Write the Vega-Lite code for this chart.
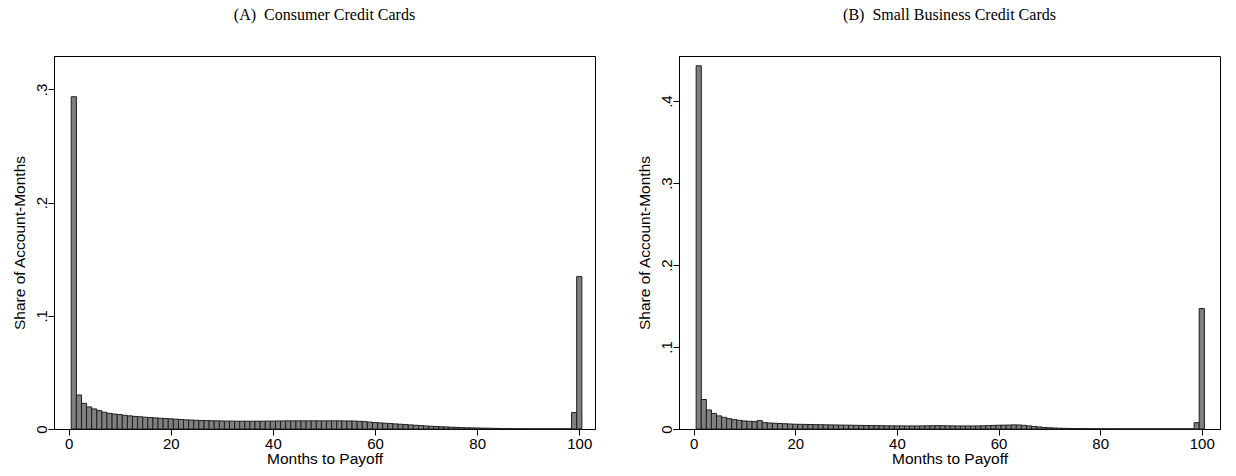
{
  "$schema": "https://vega.github.io/schema/vega-lite/v6.json",
  "background": "white",
  "padding": {"left": 11, "top": 6, "right": 5, "bottom": 4},
  "config": {
    "font": "Liberation Sans",
    "view": {"stroke": "black", "strokeWidth": 1},
    "concat": {"spacing": 40},
    "axis": {
      "grid": false,
      "domainColor": "black",
      "tickColor": "black",
      "labelColor": "black",
      "titleColor": "black",
      "labelFontSize": 15,
      "titleFontSize": 15.5,
      "titleFontWeight": "normal",
      "tickSize": 6,
      "labelFont": "Liberation Sans",
      "titleFont": "Liberation Sans"
    },
    "axisX": {"labelPadding": 1, "titlePadding": 0, "labelFlush": false},
    "axisY": {"labelAngle": -90, "labelAlign": "center", "labelBaseline": "alphabetic", "labelPadding": 2, "titlePadding": 7},
    "title": {"font": "Liberation Serif", "fontSize": 16, "fontWeight": "normal", "anchor": "middle", "color": "black", "baseline": "alphabetic", "offset": 33}
  },
  "datasets": {
    "consumer": [
      {"months": 1, "share": 0.2935}, {"months": 2, "share": 0.030}, {"months": 3, "share": 0.0227}, {"months": 4, "share": 0.0195},
      {"months": 5, "share": 0.0177}, {"months": 6, "share": 0.0162}, {"months": 7, "share": 0.0148}, {"months": 8, "share": 0.0138},
      {"months": 9, "share": 0.0132}, {"months": 10, "share": 0.0127}, {"months": 11, "share": 0.0121}, {"months": 12, "share": 0.0116},
      {"months": 13, "share": 0.0111}, {"months": 14, "share": 0.0108}, {"months": 15, "share": 0.0104}, {"months": 16, "share": 0.0101},
      {"months": 17, "share": 0.0098}, {"months": 18, "share": 0.0095}, {"months": 19, "share": 0.0093}, {"months": 20, "share": 0.0090},
      {"months": 21, "share": 0.0087}, {"months": 22, "share": 0.0084}, {"months": 23, "share": 0.0081}, {"months": 24, "share": 0.0079},
      {"months": 25, "share": 0.0077}, {"months": 26, "share": 0.0075}, {"months": 27, "share": 0.0074}, {"months": 28, "share": 0.0073},
      {"months": 29, "share": 0.0072}, {"months": 30, "share": 0.0071}, {"months": 31, "share": 0.0070}, {"months": 32, "share": 0.0070},
      {"months": 33, "share": 0.0069}, {"months": 34, "share": 0.0069}, {"months": 35, "share": 0.0069}, {"months": 36, "share": 0.0069},
      {"months": 37, "share": 0.0069}, {"months": 38, "share": 0.0069}, {"months": 39, "share": 0.0070}, {"months": 40, "share": 0.0070},
      {"months": 41, "share": 0.0071}, {"months": 42, "share": 0.0071}, {"months": 43, "share": 0.0072}, {"months": 44, "share": 0.0072},
      {"months": 45, "share": 0.0072}, {"months": 46, "share": 0.0072}, {"months": 47, "share": 0.0072}, {"months": 48, "share": 0.0072},
      {"months": 49, "share": 0.0072}, {"months": 50, "share": 0.0072}, {"months": 51, "share": 0.0072}, {"months": 52, "share": 0.0072},
      {"months": 53, "share": 0.0072}, {"months": 54, "share": 0.0071}, {"months": 55, "share": 0.0071}, {"months": 56, "share": 0.0070},
      {"months": 57, "share": 0.0068}, {"months": 58, "share": 0.0065}, {"months": 59, "share": 0.0061}, {"months": 60, "share": 0.0057},
      {"months": 61, "share": 0.0054}, {"months": 62, "share": 0.0051}, {"months": 63, "share": 0.0048}, {"months": 64, "share": 0.0045},
      {"months": 65, "share": 0.0042}, {"months": 66, "share": 0.0039}, {"months": 67, "share": 0.0036}, {"months": 68, "share": 0.0033},
      {"months": 69, "share": 0.0030}, {"months": 70, "share": 0.0027}, {"months": 71, "share": 0.0024}, {"months": 72, "share": 0.0022},
      {"months": 73, "share": 0.0020}, {"months": 74, "share": 0.0018}, {"months": 75, "share": 0.0016}, {"months": 76, "share": 0.0014},
      {"months": 77, "share": 0.0012}, {"months": 78, "share": 0.0011}, {"months": 79, "share": 0.0010}, {"months": 80, "share": 0.0009},
      {"months": 81, "share": 0.0008}, {"months": 82, "share": 0.0007}, {"months": 83, "share": 0.0006}, {"months": 84, "share": 0.0005},
      {"months": 85, "share": 0.0004}, {"months": 86, "share": 0.0004}, {"months": 87, "share": 0.0003}, {"months": 88, "share": 0.0003},
      {"months": 89, "share": 0.0003}, {"months": 90, "share": 0.0002}, {"months": 91, "share": 0.0002}, {"months": 92, "share": 0.0002},
      {"months": 93, "share": 0.0002}, {"months": 94, "share": 0.0002}, {"months": 95, "share": 0.0002}, {"months": 96, "share": 0.0002},
      {"months": 97, "share": 0.0002}, {"months": 98, "share": 0.0002}, {"months": 99, "share": 0.0145}, {"months": 100, "share": 0.1346}
    ],
    "business": [
      {"months": 1, "share": 0.443}, {"months": 2, "share": 0.036}, {"months": 3, "share": 0.0232}, {"months": 4, "share": 0.019},
      {"months": 5, "share": 0.016}, {"months": 6, "share": 0.0142}, {"months": 7, "share": 0.0126}, {"months": 8, "share": 0.0114},
      {"months": 9, "share": 0.0106}, {"months": 10, "share": 0.0098}, {"months": 11, "share": 0.0094}, {"months": 12, "share": 0.0090},
      {"months": 13, "share": 0.0102}, {"months": 14, "share": 0.0078}, {"months": 15, "share": 0.0073}, {"months": 16, "share": 0.0070},
      {"months": 17, "share": 0.0067}, {"months": 18, "share": 0.0064}, {"months": 19, "share": 0.0061}, {"months": 20, "share": 0.0058},
      {"months": 21, "share": 0.0057}, {"months": 22, "share": 0.0056}, {"months": 23, "share": 0.0055}, {"months": 24, "share": 0.0053},
      {"months": 25, "share": 0.0052}, {"months": 26, "share": 0.0051}, {"months": 27, "share": 0.0050}, {"months": 28, "share": 0.0049},
      {"months": 29, "share": 0.0048}, {"months": 30, "share": 0.0047}, {"months": 31, "share": 0.0046}, {"months": 32, "share": 0.0045},
      {"months": 33, "share": 0.0044}, {"months": 34, "share": 0.0043}, {"months": 35, "share": 0.0042}, {"months": 36, "share": 0.0041},
      {"months": 37, "share": 0.0040}, {"months": 38, "share": 0.0039}, {"months": 39, "share": 0.0039}, {"months": 40, "share": 0.0038},
      {"months": 41, "share": 0.0038}, {"months": 42, "share": 0.0037}, {"months": 43, "share": 0.0037}, {"months": 44, "share": 0.0037},
      {"months": 45, "share": 0.0038}, {"months": 46, "share": 0.0039}, {"months": 47, "share": 0.0040}, {"months": 48, "share": 0.0041},
      {"months": 49, "share": 0.0040}, {"months": 50, "share": 0.0039}, {"months": 51, "share": 0.0038}, {"months": 52, "share": 0.0037},
      {"months": 53, "share": 0.0037}, {"months": 54, "share": 0.0037}, {"months": 55, "share": 0.0037}, {"months": 56, "share": 0.0038},
      {"months": 57, "share": 0.0039}, {"months": 58, "share": 0.0041}, {"months": 59, "share": 0.0044}, {"months": 60, "share": 0.0046},
      {"months": 61, "share": 0.0047}, {"months": 62, "share": 0.0048}, {"months": 63, "share": 0.0050}, {"months": 64, "share": 0.0049},
      {"months": 65, "share": 0.0045}, {"months": 66, "share": 0.0038}, {"months": 67, "share": 0.0031}, {"months": 68, "share": 0.0025},
      {"months": 69, "share": 0.0019}, {"months": 70, "share": 0.0015}, {"months": 71, "share": 0.0012}, {"months": 72, "share": 0.0010},
      {"months": 73, "share": 0.0008}, {"months": 74, "share": 0.0007}, {"months": 75, "share": 0.0006}, {"months": 76, "share": 0.0005},
      {"months": 77, "share": 0.0005}, {"months": 78, "share": 0.0004}, {"months": 79, "share": 0.0004}, {"months": 80, "share": 0.0003},
      {"months": 81, "share": 0.0003}, {"months": 82, "share": 0.0003}, {"months": 83, "share": 0.0002}, {"months": 84, "share": 0.0002},
      {"months": 85, "share": 0.0002}, {"months": 86, "share": 0.0002}, {"months": 87, "share": 0.0002}, {"months": 88, "share": 0.0002},
      {"months": 89, "share": 0.0002}, {"months": 90, "share": 0.0002}, {"months": 91, "share": 0.0002}, {"months": 92, "share": 0.0002},
      {"months": 93, "share": 0.0002}, {"months": 94, "share": 0.0002}, {"months": 95, "share": 0.0002}, {"months": 96, "share": 0.0002},
      {"months": 97, "share": 0.0002}, {"months": 98, "share": 0.0002}, {"months": 99, "share": 0.0077}, {"months": 100, "share": 0.147}
    ]
  },
  "hconcat": [
    {
      "title": {"text": "(A)\u00a0 Consumer Credit Cards"},
      "width": 541,
      "height": 373,
      "data": {"name": "consumer"},
      "mark": {"type": "bar", "width": 5.2, "fill": "#808080", "stroke": "#1e1e1e", "strokeWidth": 1},
      "encoding": {
        "x": {
          "field": "months", "type": "quantitative",
          "scale": {"domain": [-1.9, 102.1], "nice": false, "zero": false},
          "axis": {"values": [0, 20, 40, 60, 80, 100], "title": "Months to Payoff"}
        },
        "y": {
          "field": "share", "type": "quantitative",
          "scale": {"domain": [0, 0.3295], "nice": false},
          "axis": {"values": [0, 0.1, 0.2, 0.3], "title": "Share of Account-Months",
                   "labelExpr": "datum.value === 0 ? '0' : replace(format(datum.value, '.1f'), '0.', '.')"}
        }
      }
    },
    {
      "title": {"text": "(B)\u00a0 Small Business Credit Cards"},
      "width": 541,
      "height": 373,
      "data": {"name": "business"},
      "mark": {"type": "bar", "width": 5.18, "fill": "#808080", "stroke": "#1e1e1e", "strokeWidth": 1},
      "encoding": {
        "x": {
          "field": "months", "type": "quantitative",
          "scale": {"domain": [-1.9, 102.6], "nice": false, "zero": false},
          "axis": {"values": [0, 20, 40, 60, 80, 100], "title": "Months to Payoff"}
        },
        "y": {
          "field": "share", "type": "quantitative",
          "scale": {"domain": [0, 0.455], "nice": false},
          "axis": {"values": [0, 0.1, 0.2, 0.3, 0.4], "title": "Share of Account-Months",
                   "labelExpr": "datum.value === 0 ? '0' : replace(format(datum.value, '.1f'), '0.', '.')"}
        }
      }
    }
  ]
}
